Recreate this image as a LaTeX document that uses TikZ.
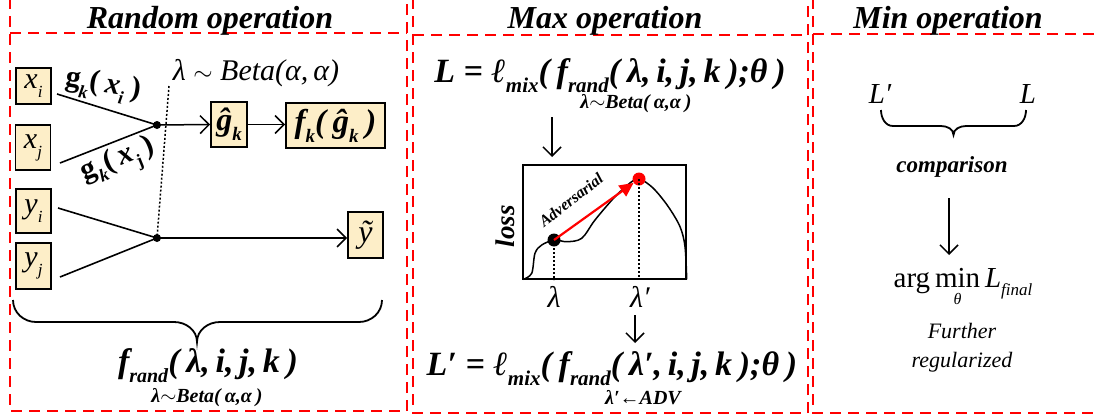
\documentclass[tikz,border=0pt]{standalone}
\usepackage{fontspec}
\setmainfont{Liberation Serif}
\usetikzlibrary{arrows.meta}
\definecolor{boxfill}{RGB}{253,238,200}
\newcommand\fs[1]{\fontsize{#1}{#1}\selectfont}
\newcommand\lsub[2]{\raisebox{-0.3em}{\fs{#1}#2}}
\newcommand\gp{\hspace{0.2em}}
\begin{document}
\begin{tikzpicture}[x=1pt,y=-1pt,
  frame/.style={red, line width=1.8pt, dash pattern=on 11pt off 7pt},
  ibox/.style={draw, line width=1.8pt, fill=boxfill, inner sep=0pt, minimum width=35pt, minimum height=44pt},
  conn/.style={line width=1.6pt},
  arr/.style={line width=1.5pt, -{Straight Barb[length=9pt,width=18pt,line width=1.5pt]}},
  jdot/.style={circle, fill=black, inner sep=0pt, minimum size=8pt},
  hdr/.style={font=\bfseries\itshape\fs{32}, anchor=base, inner sep=0pt},
  lbl/.style={anchor=base, inner sep=0pt},
  dotline/.style={line width=1.5pt, dash pattern=on 2pt off 2pt}
]
\useasboundingbox (0,0) rectangle (1097,418);
\begin{scope}
\clip (0,0) rectangle (1097,418);
\draw[frame] (10,-20) rectangle (407,411);
\draw[frame] (10,33) -- (407,33);
\draw[frame] (413,-20) rectangle (808,413);
\draw[frame] (413,35) -- (808,35);
\draw[frame] (813,-20) rectangle (1110,413);
\draw[frame] (813,34) -- (1110,34);
\end{scope}
% headers
\node[hdr] (h1) at (210,28) {Random operation};
\node[hdr] (h2) at (605,28) {Max operation};
\node[hdr] (h3) at (948,28) {Min operation};
% ---------- left panel
\node[ibox, minimum height=36pt] (xi) at (33.5,86) {\fs{30}\itshape x\lsub{17}{i}};
\node[ibox, minimum height=45pt] (xj) at (33,147.5) {\fs{30}\itshape x\lsub{17}{j}};
\node[ibox, minimum height=44pt] (yi) at (33.5,211) {\fs{30}\itshape y\lsub{17}{i}};
\node[ibox, minimum height=46pt] (yj) at (33.5,266) {\fs{30}\itshape y\lsub{17}{j}};
\node[ibox, minimum width=36pt, minimum height=45pt] (gh) at (229,124.5) {\fs{32}\bfseries\itshape ĝ\lsub{19}{k}};
\node[ibox, minimum width=99pt, minimum height=45pt] (fk) at (335.5,125.5) {\fs{33}\bfseries\itshape f\lsub{19}{k}(\gp ĝ\lsub{19}{k}\gp)};
\node[ibox, minimum width=35pt, minimum height=46pt] (yt) at (365.5,235) {\fs{32}\itshape ỹ};
\node[jdot] (j1) at (157,125) {};
\node[jdot] (j2) at (157,238) {};
\coordinate (xis) at (57,94);
\coordinate (xjs) at (60,163);
\coordinate (yis) at (58,208);
\coordinate (yjs) at (60,277);
\coordinate (dtop) at (169,86);
\draw[conn] (xis) -- (j1.center);
\draw[conn] (xjs) -- (j1.center);
\draw[conn] (yis) -- (j2.center);
\draw[conn] (yjs) -- (j2.center);
\draw[dotline] (dtop) -- (j2.center);
\draw[arr] (j1.center) -- (gh.west);
\draw[arr] (gh.east) -- (gh.east -| fk.west);
\draw[arr] (j2.center) -- (j2 -| yt.west);
\node[rotate=-9, font=\bfseries\fs{30}, inner sep=0pt] (gxi) at (103,86) {g\lsub{18}{\itshape k}(\gp\textit{x}\lsub{18}{\itshape i}\gp)};
\node[rotate=22, font=\bfseries\fs{30}, inner sep=0pt] (gxj) at (119,162) {g\lsub{18}{\itshape k}(\gp\textit{x}\lsub{18}{j}\gp)};
\node[lbl, font=\itshape\fs{30}] (beta) at (256,80) {λ $\sim$ Beta(α,\,α)};
\draw[line width=1.8pt] (13,300) to[out=-90,in=180] (36,322) -- (174,322) to[out=0,in=90] (197,342)
  to[out=90,in=180] (220,322) -- (359,322) to[out=0,in=-90] (382,300);
\node[lbl, font=\bfseries\itshape\fs{34}] (fr) at (208,372) {f\lsub{20}{rand}(\gp λ,\,i,\,j,\,k\gp)};
\node[lbl, font=\bfseries\itshape\fs{20}] (frs) at (207,402) {λ$\sim$Beta(\gp α,α\gp)};
% ---------- middle panel
\node[lbl, font=\bfseries\itshape\fs{34}] (Lf) at (610,82) {L = ℓ\lsub{21}{mix}(\gp f\lsub{21}{rand}(\gp λ,\,i,\,j,\,k\gp);θ\gp)};
\node[lbl, font=\bfseries\itshape\fs{20}] (Ls) at (636,108) {λ$\sim$Beta(\gp α,α\gp)};
\coordinate (a1s) at (552,117);
\coordinate (a1e) at (552,157);
\draw[arr] (a1s) -- (a1e);
\node[draw, line width=2pt, minimum width=163pt, minimum height=114pt, inner sep=0pt] (plot) at (604.5,222) {};
\draw[line width=1.5pt] plot[smooth, tension=0.55] coordinates {(523.3,279.3) (531.7,273.3) (535,253.3) (541.7,245) (554.3,240) (566.7,241.7) (581.7,238.3) (595,220) (615,196.7) (631.7,181.7) (639,179.3) (645,181.7) (655,190) (668.3,206.7) (680,226.7) (685,246.7) (686.7,279.3)};
\node[circle, fill=black, minimum size=13pt, inner sep=0pt] (bd) at (554,240) {};
\node[circle, fill=red, minimum size=13pt, inner sep=0pt] (rd) at (639,179) {};
\draw[dotline] (bd.center) -- (bd.center |- plot.south);
\draw[dotline] (rd.center) -- (rd.center |- plot.south);
\draw[red, line width=2.2pt, -{Triangle[length=14pt,width=13pt]}] (bd.center) -- (rd);
\node[rotate=38, font=\bfseries\itshape\fs{16}, inner sep=0pt] (adv) at (571,200) {Adversarial};
\node[rotate=90, font=\bfseries\itshape\fs{27}, inner sep=0pt] (loss) at (505,226) {loss};
\node[font=\itshape\fs{30}, inner sep=0pt] (lam) at (554,297) {λ};
\node[font=\itshape\fs{30}, inner sep=0pt] (lamp) at (640,297) {λ′};
\coordinate (a2s) at (635,315);
\coordinate (a2e) at (635,343);
\draw[arr] (a2s) -- (a2e);
\node[lbl, font=\bfseries\itshape\fs{34}] (Lpf) at (612,375) {L′ = ℓ\lsub{21}{mix}(\gp f\lsub{21}{rand}(\gp λ′,\,i,\,j,\,k\gp);θ\gp)};
\node[lbl, font=\bfseries\itshape\fs{20}] (Lps) at (643,404) {λ′←ADV};
% ---------- right panel
\node[lbl, font=\itshape\fs{29}] (Lp) at (880,103) {L′};
\node[lbl, font=\itshape\fs{29}] (L) at (1028,103) {L};
\draw[line width=1.8pt] (881,110) to[out=-90,in=180] (893,126) -- (941,126) to[out=0,in=90] (953.5,135)
  to[out=90,in=180] (966,126) -- (1014,126) to[out=0,in=-90] (1026,110);
\node[lbl, font=\bfseries\itshape\fs{23}] (cmp) at (952,172) {comparison};
\coordinate (a3s) at (949,198);
\coordinate (a3e) at (949,255);
\draw[arr] (a3s) -- (a3e);
\node[lbl, font=\fs{29}] (am) at (963,287) {arg\,\begin{tabular}[t]{@{}c@{}}min\\[-12pt]{\itshape\fs{16}θ}\end{tabular}\,\itshape L\lsub{17}{final}};
\node[lbl, font=\itshape\fs{22}] (fur) at (962,338) {Further};
\node[lbl, font=\itshape\fs{22}] (reg) at (962,367) {regularized};
\end{tikzpicture}
\end{document}
